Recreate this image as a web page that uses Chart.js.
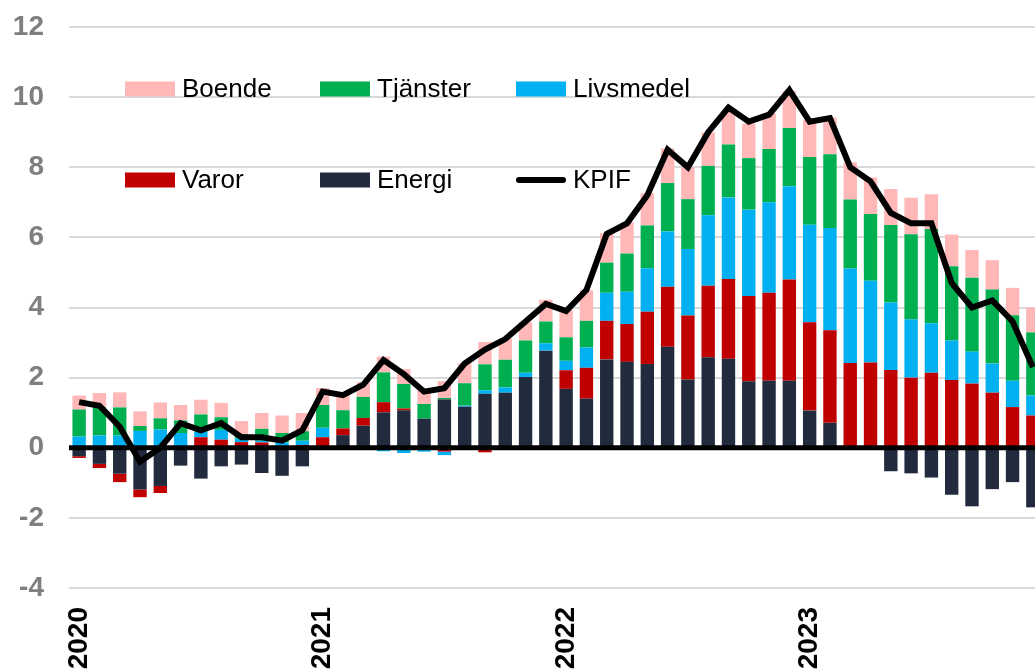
<!DOCTYPE html>
<html>
<head>
<meta charset="utf-8">
<script src="https://cdn.jsdelivr.net/npm/chart.js@4/dist/chart.umd.min.js"></script>
<style>
  html, body { margin: 0; padding: 0; background: #fff; overflow: hidden; }
  #wrap { position: absolute; left: 0; top: 0; width: 1045px; height: 671px; }
</style>
</head>
<body>
<div id="wrap"><canvas id="kpifChart"></canvas></div>
<script>
// months Jan 2020 - Dec 2023
const months = [];
for (const y of [2020, 2021, 2022, 2023]) {
  for (let m = 1; m <= 12; m++) months.push(y + "-" + String(m).padStart(2, "0"));
}

// contributions, percentage points
const energi = [
  -0.24, -0.46, -0.74, -1.19, -1.09, -0.51, -0.88, -0.53, -0.48, -0.72, -0.80, -0.53,
  0, 0.36, 0.63, 1.01, 1.07, 0.83, 1.38, 1.17, 1.54, 1.57, 2.02, 2.77,
  1.68, 1.40, 2.52, 2.45, 2.39, 2.88, 1.95, 2.58, 2.54, 1.90, 1.91, 1.91,
  1.06, 0.71, -0.05, -0.05, -0.67, -0.73, -0.85, -1.34, -1.67, -1.18, -0.98, -1.70
];
const varor = [
  -0.05, -0.12, -0.24, -0.22, -0.20, 0, 0.30, 0.23, 0.16, 0.15, 0.05, 0.08,
  0.30, 0.19, 0.22, 0.29, 0.05, 0, -0.11, 0, -0.13, 0, 0, 0,
  0.53, 0.88, 1.10, 1.08, 1.49, 1.71, 1.82, 2.04, 2.27, 2.43, 2.51, 2.89,
  2.52, 2.64, 2.42, 2.43, 2.22, 2.00, 2.14, 1.93, 1.83, 1.57, 1.16, 0.92
];
const livsmedel = [
  0.32, 0.35, 0.35, 0.48, 0.52, 0.42, 0.16, 0.28, 0.10, 0.05, 0.10, 0.12,
  0.27, 0, 0, -0.10, -0.15, -0.11, -0.10, 0.03, 0.10, 0.15, 0.12, 0.21,
  0.27, 0.58, 0.80, 0.92, 1.24, 1.58, 1.90, 2.01, 2.33, 2.46, 2.58, 2.66,
  2.78, 2.92, 2.69, 2.33, 1.92, 1.66, 1.41, 1.13, 0.91, 0.83, 0.75, 0.57
];
const tjanster = [
  0.77, 0.80, 0.80, 0.14, 0.32, 0.36, 0.49, 0.36, 0.13, 0.34, 0.27, 0.27,
  0.65, 0.52, 0.60, 0.85, 0.70, 0.42, 0.04, 0.64, 0.74, 0.79, 0.92, 0.62,
  0.67, 0.76, 0.86, 1.09, 1.22, 1.38, 1.42, 1.41, 1.51, 1.47, 1.52, 1.66,
  1.93, 2.10, 1.97, 1.91, 2.21, 2.43, 2.69, 2.12, 2.11, 2.11, 1.87, 1.80
];
const boende = [
  0.40, 0.41, 0.43, 0.42, 0.45, 0.44, 0.42, 0.41, 0.37, 0.45, 0.50, 0.52,
  0.48, 0.43, 0.42, 0.45, 0.42, 0.40, 0.48, 0.57, 0.64, 0.60, 0.52, 0.62,
  0.78, 0.87, 0.84, 0.89, 0.92, 0.99, 0.91, 0.95, 0.98, 0.98, 1.02, 1.05,
  1.06, 1.05, 1.06, 1.04, 1.03, 1.04, 0.99, 0.90, 0.79, 0.84, 0.78, 0.71
];
// KPIF, annual change in percent
const kpif = [
  1.3, 1.2, 0.6, -0.4, 0.0, 0.7, 0.5, 0.7, 0.3, 0.3, 0.2, 0.5,
  1.6, 1.5, 1.8, 2.5, 2.1, 1.6, 1.7, 2.4, 2.8, 3.1, 3.6, 4.1,
  3.9, 4.5, 6.1, 6.4, 7.2, 8.5, 8.0, 9.0, 9.7, 9.3, 9.5, 10.2,
  9.3, 9.4, 8.0, 7.6, 6.7, 6.4, 6.4, 4.7, 4.0, 4.2, 3.6, 2.3
];

const yTicks = [-4, -2, 0, 2, 4, 6, 8, 10, 12];

const FONT = "'Liberation Sans', Arial, sans-serif";

function bar(label, data, color) {
  return { type: "bar", label, data, backgroundColor: color, stack: "s", order: 1,
           barPercentage: 0.66, categoryPercentage: 1.0 };
}

// zero axis drawn over the bars, under the KPIF line
const zeroLine = {
  id: "zeroLine",
  beforeDatasetDraw(chart, args) {
    if (args.meta.type !== "line") return;
    const { ctx, chartArea, scales } = chart;
    const y = scales.y.getPixelForValue(0);
    ctx.save();
    ctx.strokeStyle = "#000";
    ctx.lineWidth = 5;
    ctx.beginPath();
    ctx.moveTo(chartArea.left, y);
    ctx.lineTo(chartArea.right, y);
    ctx.stroke();
    ctx.restore();
  }
};

// legend inside plot, 3 columns x 2 rows
const insideLegend = {
  id: "insideLegend",
  afterDraw(chart) {
    const ctx = chart.ctx;
    const order = [4, 3, 2, 1, 0, 5];
    const colX = [125, 320, 516];
    const rowY = [89, 180];
    ctx.save();
    ctx.font = "26px " + FONT;
    ctx.textBaseline = "middle";
    ctx.fillStyle = "#000";
    order.forEach((di, k) => {
      const ds = chart.data.datasets[di];
      const x = colX[k % 3], y = rowY[Math.floor(k / 3)];
      if (ds.type === "line") {
        ctx.strokeStyle = "#000";
        ctx.lineWidth = 6;
        ctx.lineCap = "round";
        ctx.beginPath();
        ctx.moveTo(x + 3, y);
        ctx.lineTo(x + 47, y);
        ctx.stroke();
      } else {
        ctx.fillStyle = ds.backgroundColor;
        ctx.fillRect(x, y - 7.5, 50, 15);
      }
      ctx.fillStyle = "#000";
      ctx.fillText(ds.label, x + 57, y + 1);
    });
    ctx.restore();
  }
};

new Chart(document.getElementById("kpifChart"), {
  data: {
    labels: months,
    datasets: [
      bar("Energi", energi, "#222b3d"),
      bar("Varor", varor, "#c00000"),
      bar("Livsmedel", livsmedel, "#00b0f0"),
      bar("Tjänster", tjanster, "#00b050"),
      bar("Boende", boende, "#ffb7b7"),
      {
        type: "line", label: "KPIF", data: kpif, stack: "kpif", order: 0,
        borderColor: "#000", borderWidth: 6, pointRadius: 0, tension: 0,
        borderJoinStyle: "miter", fill: false
      }
    ]
  },
  options: {
    responsive: true,
    maintainAspectRatio: false,
    animation: false,
    layout: { padding: { left: 13, top: 27, right: 2, bottom: 0 } },
    plugins: { legend: { display: false }, tooltip: { enabled: false } },
    scales: {
      x: {
        stacked: true,
        offset: true,
        grid: { display: false, drawTicks: false },
        border: { display: false },
        afterFit: (s) => { s.height = 83; s.paddingLeft = 0; s.paddingRight = 0; },
        ticks: {
          autoSkip: false,
          minRotation: 90,
          maxRotation: 90,
          padding: 19,
          color: "#000",
          font: { family: FONT, size: 28, weight: "bold" },
          callback: (v, i) => (i % 12 === 0 ? months[i].slice(0, 4) : "")
        }
      },
      y: {
        stacked: true,
        min: yTicks[0],
        max: yTicks[yTicks.length - 1],
        afterBuildTicks: (s) => { s.ticks = yTicks.map(v => ({ value: v })); },
        afterFit: (s) => { s.width = 56; s.paddingTop = 0; s.paddingBottom = 0; },
        grid: { color: "#d9d9d9", lineWidth: 2, drawTicks: false },
        border: { display: false },
        ticks: {
          padding: 25,
          color: "#7f7f7f",
          font: { family: FONT, size: 28, weight: "bold" }
        }
      }
    }
  },
  plugins: [zeroLine, insideLegend]
});
</script>
</body>
</html>
